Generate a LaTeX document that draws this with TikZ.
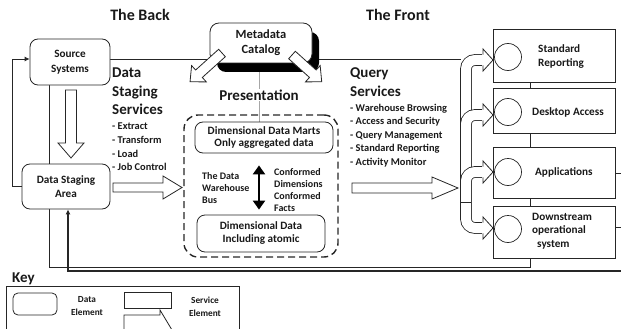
\documentclass[tikz,border=0pt]{standalone}
\usepackage{fontspec}
\setmainfont{Carlito}
\usetikzlibrary{calc,shadows,arrows.meta}
\pgfdeclarelayer{bg}
\pgfsetlayers{bg,main}

\newcommand\fs[2]{\fontsize{#1}{#2}\selectfont}

% hollow "service" arrow: origin, angle, length, body half width, head half width, head length
\newcommand\svcarrow[6]{%
  \begin{scope}[shift={#1},rotate=#2]
    \draw[svc] (0,#4) -- ({#3-#6},#4) -- ({#3-#6},#5) -- (#3,0) -- ({#3-#6},-#5) -- ({#3-#6},-#4) -- (0,-#4) -- cycle;
  \end{scope}}

% open head at the end of a branching pipe (y of the pipe axis)
\newcommand\pipehead[1]{%
  \fill[white] (482,#1-11) -- (493,#1) -- (482,#1+11) -- cycle;
  \draw[link] (483,#1-5.4) -- (483,#1-11) -- (493,#1) -- (483,#1+11) -- (483,#1+5.4);}

\begin{document}
\begin{tikzpicture}[x=1pt,y=-1pt,
  link/.style={draw=black!85,line width=0.8pt},
  svc/.style={draw=black!85,line width=0.8pt,fill=white},
  databox/.style={draw=black!85,line width=0.8pt,fill=white,rounded corners=8pt,inner sep=0pt,align=center,font=\bfseries\fs{11.2}{14.5}},
  frontbox/.style={draw=black!85,line width=1pt,fill=white,minimum width=122pt,inner sep=0pt},
  disc/.style={draw=black!85,line width=0.7pt,circle,minimum size=27pt,inner sep=0pt},
  pipe/.style={draw=black!85,line width=0.8pt,double=white,double distance=10pt,rounded corners=9pt},
  heading/.style={font=\bfseries\fs{16}{18}},
  bigtxt/.style={font=\bfseries\fs{15}{18.5},align=left,anchor=west,inner sep=0pt},
  listtxt/.style={font=\bfseries\fs{10.4}{13.6},align=left,anchor=west,inner sep=0pt},
  boxtxt/.style={font=\bfseries\fs{11.2}{13.5},align=left,anchor=west,inner sep=0pt},
  smalltxt/.style={font=\bfseries\fs{10}{12},align=left,anchor=west,inner sep=0pt},
  keytxt/.style={font=\bfseries\fs{9.3}{13},align=center},
  every node/.append style={text=black!90}]

\path[use as bounding box] (0,0) rectangle (621,329);
\clip (0,0) rectangle (621,329);

% ---------- headings ----------
\node[heading] (back) at (140,15) {The Back};
\node[heading] (front) at (398,15) {The Front};

% ---------- back room ----------
\node[databox,minimum width=80pt,minimum height=46pt] (src) at (70,62) {Source\\Systems};
\node[databox,minimum width=88pt,minimum height=45pt] (dsa) at (66,186.5) {Data Staging\\Area};

\node[databox,minimum width=102pt,minimum height=40pt,rounded corners=9pt,font=\bfseries\fs{12.5}{15},
      drop shadow={shadow xshift=7pt,shadow yshift=-9pt,fill=black,opacity=1}] (meta) at (261,43) {Metadata\\Catalog};

\node[bigtxt] (dss) at (112,91.5) {Data\\Staging\\Services};
\node[listtxt] (dsslist) at (112,147) {- Extract\\- Transform\\- Load\\- Job Control};

% ---------- presentation area ----------
\node[draw=black!85,line width=1.4pt,dash pattern=on 7pt off 4pt,rounded corners=14pt,
      minimum width=154pt,minimum height=142pt] (pres) at (261,186) {};
\node[databox,minimum width=138pt,minimum height=31pt,font=\bfseries\fs{11.2}{12.5}] (ddm) at (264,137.5) {Dimensional Data Marts\\Only aggregated data};
\node[databox,minimum width=128pt,minimum height=37pt,font=\bfseries\fs{11.2}{13}] (dd) at (261,233.5) {Dimensional Data\\Including atomic};
\node[font=\bfseries\fs{15}{16},fill=white,inner sep=1pt] (prestitle) at (259,95) {Presentation};
\node[smalltxt] (bus) at (202,188) {The Data\\Warehouse\\Bus};
\node[smalltxt] (conf) at (274,190) {Conformed\\Dimensions\\Conformed\\Facts};
\coordinate (busx) at (259,0);
\draw[line width=2.6pt,{Triangle[width=12pt,length=9pt]}-{Triangle[width=12pt,length=9pt]},
      shorten <=12pt,shorten >=5pt] (ddm.south -| busx) -- (dd.north -| busx);

% ---------- query services ----------
\node[bigtxt] (qs) at (350,82) {Query\\Services};
\node[listtxt] (qslist) at (350,135.5) {- Warehouse Browsing\\- Access and Security\\- Query Management\\- Standard Reporting\\- Activity Monitor};

% ---------- front room ----------
\node[frontbox,minimum height=52pt] (sr) at (554,56) {};
\node[frontbox,minimum height=45pt] (da) at (554,110.5) {};
\node[frontbox,minimum height=51pt] (app) at (554,172.5) {};
\node[frontbox,minimum height=52pt] (ds) at (554,232) {};
\node[disc] (c1) at (508,57) {};
\node[disc] (c2) at (508,112) {};
\node[disc] (c3) at (508,172) {};
\node[disc] (c4) at (508,229) {};
\node[boxtxt] (srt) at (538,56.5) {Standard\\Reporting};
\node[boxtxt] (dat) at (532,112) {Desktop Access};
\node[boxtxt] (appt) at (535,172) {Applications};
\node[boxtxt] (dst) at (532,231) {Downstream\\operational\\\hspace*{5pt}system};

% ---------- connecting lines (behind the boxes) ----------
\coordinate (topline) at (0,59);
\coordinate (leftx) at (12,0);
\coordinate (busL) at (49,0);
\coordinate (busR) at (530,0);
\coordinate (retx) at (68,0);
\begin{pgfonlayer}{bg}
  \draw[link] (src.east |- topline) -- (461,59);
  \draw[link,-{Latex[length=5pt,width=5pt]}] (dsa.west) -- (dsa.west -| leftx) -- (leftx |- topline) -- (src.west |- topline);
  \draw[link] (src.south -| busL) -- (dsa.north -| busL);
  \draw[link] (dsa.south -| busL) -- (49,267) -- (530,267) -- (ds.south -| busR);
  \draw[link] (sr.south -| busR) -- (da.north -| busR);
  \draw[link] (da.south -| busR) -- (app.north -| busR);
  \draw[link] (app.south -| busR) -- (ds.north -| busR);
  \draw[draw=black!85,line width=1.5pt,-{Latex[length=5pt,width=5pt]}] (621,271) -- (68,271) -- (dsa.south -| retx);
  \draw[link] (app.east |- 0,173) -- (621,173);
  \draw[link] (ds.east |- 0,227) -- (621,227);
  \draw[draw=black!35,line width=1pt] (meta.south -| busx) -- (ddm.north -| busx);
\end{pgfonlayer}

% ---------- service arrows ----------
\svcarrow{(222,53)}{222}{43}{5}{11}{12}
\svcarrow{(292,55)}{-42}{40}{5}{11}{12}
\svcarrow{(71,90)}{-90}{68}{5.5}{13}{15}
\svcarrow{(113,187.5)}{0}{69}{4.5}{11.5}{19}
\svcarrow{(352,188)}{0}{106}{5}{11}{26}

% ---------- branching pipes to the front room ----------
\draw[pipe] (466,202) -- (466,60) -- (483,60);
\pipehead{60}
\draw[pipe] (466,202) -- (466,115) -- (483,115);
\pipehead{115}
\draw[pipe] (466,202) -- (466,172) -- (483,172);
\pipehead{172}
\draw[pipe] (466,202) -- (466,228) -- (483,228);
\pipehead{228}
\draw[link] (461,202) -- (471,202);

% ---------- key ----------
\node[font=\bfseries\fs{15}{17},anchor=west,inner sep=0pt] (keytitle) at (12,279) {Key};
\node[draw=black!85,line width=0.8pt,minimum width=233pt,minimum height=60pt,anchor=north west,inner sep=0pt] (keybox) at (6,286) {};
\node[draw=black!85,line width=0.8pt,rounded corners=5pt,minimum width=44pt,minimum height=22pt] (kdata) at (35,304) {};
\node[keytxt] (kdatat) at (87,306.5) {Data\\Element};
\node[draw=black!85,line width=0.8pt,minimum width=47pt,minimum height=16pt] (ksvc) at (147.5,300) {};
\svcarrow{(124,330)}{0}{48}{15}{20}{12}
\node[keytxt] (ksvct) at (205,306.5) {Service\\Element};
\end{tikzpicture}
\end{document}
